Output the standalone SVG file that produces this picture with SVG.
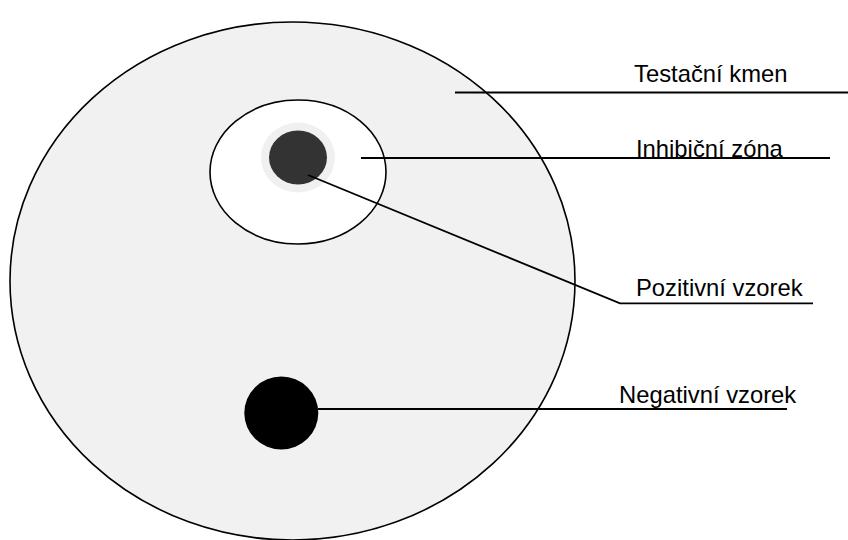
<svg xmlns="http://www.w3.org/2000/svg" width="848" height="540" viewBox="0 0 848 540">
<style>
.o{stroke:#000;stroke-width:1.6}
.l{stroke:#000;stroke-width:1.8;fill:none}
text{font-family:"Liberation Sans",Arial,sans-serif;font-size:23.8px;fill:#000}
</style>
<rect width="848" height="540" fill="#fff"/>
<g id="testacni-kmen"><ellipse class="o" cx="292.5" cy="281" rx="282.5" ry="259" fill="#f1f1f1"/></g>
<g id="inhibicni-zona"><ellipse class="o" cx="298" cy="172" rx="88" ry="72" fill="#fff"/></g>
<g id="pozitivni-vzorek">
<ellipse cx="298" cy="157.5" rx="37" ry="35" fill="#f0f0f0"/>
<ellipse cx="298" cy="157.5" rx="29" ry="27" fill="#333"/>
</g>
<g id="negativni-vzorek"><ellipse cx="281.3" cy="413" rx="37" ry="36.5" fill="#000"/></g>
<g id="connectors">
<line class="l" x1="455" y1="92.5" x2="848" y2="92.5"/>
<line class="l" x1="361" y1="158" x2="830" y2="158"/>
<polyline class="l" points="308,175 620,303.3 813,303.3"/>
<line class="l" x1="318" y1="409" x2="787" y2="409"/>
</g>
<g id="labels">
<text x="634" y="82">Testační kmen</text>
<text x="636" y="157">Inhibiční zóna</text>
<text x="636" y="296">Pozitivní vzorek</text>
<text x="619" y="403">Negativní vzorek</text>
</g>
</svg>
